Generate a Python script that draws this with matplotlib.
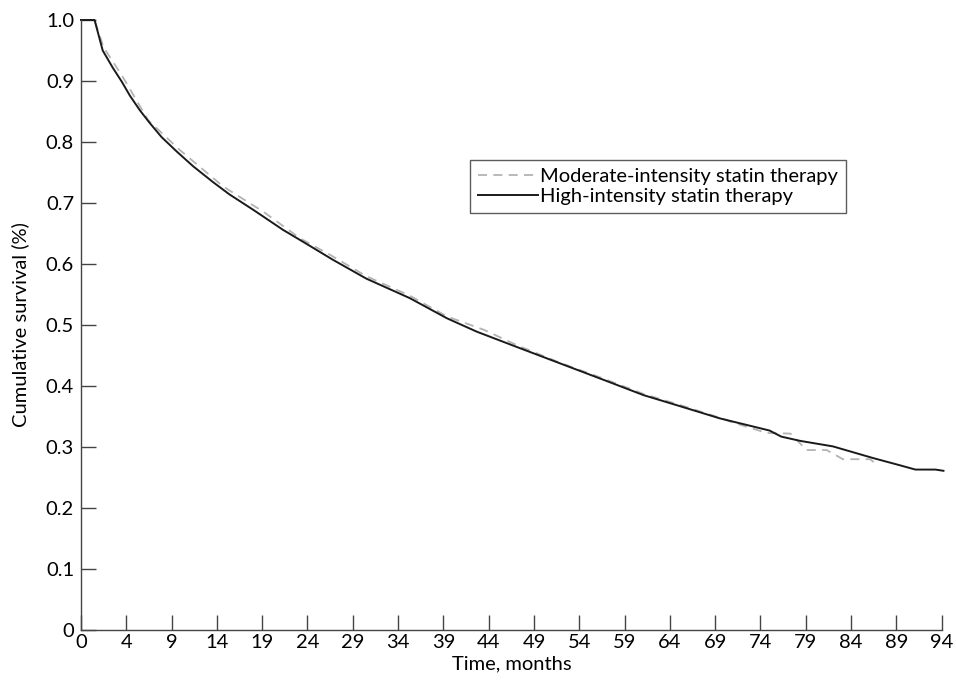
import matplotlib
matplotlib.use("Agg")
import matplotlib.pyplot as plt
import numpy as np

# data (x in plotted axis units: one tick every 5 units)
tick_labels = ["0", "4", "9", "14", "19", "24", "29", "34", "39", "44", "49",
               "54", "59", "64", "69", "74", "79", "84", "89", "94"]

high_x = [0, 1.5, 2.4, 3.5, 4.5, 5.4, 6.5, 7.6, 8.9, 10.6, 12.4, 14.6, 16.4, 19.0,
          22.3, 24.9, 27.8, 31.5, 36.3, 40.4, 43.7, 48.1, 52.9, 57.7, 62.1,
          66.1, 70.5, 76.0, 77.3, 79.4, 83.0, 87.4, 90.4, 92.1, 94.3, 95.2]
high_y = [1.0, 1.0, 0.950, 0.922, 0.899, 0.876, 0.852, 0.831, 0.808, 0.784, 0.760,
          0.734, 0.714, 0.689, 0.656, 0.633, 0.607, 0.576, 0.544, 0.511, 0.489,
          0.464, 0.437, 0.410, 0.385, 0.367, 0.347, 0.327, 0.317, 0.310, 0.301,
          0.282, 0.270, 0.263, 0.263, 0.261]

mod_x = [0, 1.5, 2.5, 4.6, 7.4, 10.9, 15.7, 20.1, 24.2, 27.5, 31.5, 36.3, 40.4,
         44.5, 48.1, 52.9, 57.7, 62.1, 66.1, 70.5, 72.0, 75.7, 78.3, 80.1,
         82.3, 84.1, 87.1, 87.7]
mod_y = [1.0, 1.0, 0.955, 0.907, 0.836, 0.787, 0.727, 0.686, 0.642, 0.615,
         0.580, 0.548, 0.514, 0.492, 0.467, 0.438, 0.412, 0.387, 0.369, 0.348,
         0.340, 0.323, 0.322, 0.295, 0.295, 0.280, 0.280, 0.273]

plt.rcParams['font.family'] = ['Lato', 'DejaVu Sans']

fig = plt.figure(figsize=(9.56, 6.83), dpi=100)
ax = fig.add_axes([0.0847, 0.0776, 0.9003, 0.8931])

ax.plot(mod_x, mod_y, color='#b3b3b3', linestyle=(0, (5, 3.5)), linewidth=1.3,
        label="Moderate-intensity statin therapy", clip_on=False)
ax.plot(high_x, high_y, color='#1a1a1a', linewidth=1.4,
        label="High-intensity statin therapy", clip_on=False)

ax.set_xlim(0, 95)
ax.set_ylim(0, 1.0)
ax.set_xticks(np.arange(len(tick_labels)) * 5)
ax.set_xticklabels(tick_labels)
ax.set_yticks(np.arange(0, 1.01, 0.1))
ax.set_yticklabels(["0"] + ["%.1f" % v for v in np.arange(0.1, 1.01, 0.1)])

for s in ['top', 'right']:
    ax.spines[s].set_visible(False)
for s in ['left', 'bottom']:
    ax.spines[s].set_color('#444444')
    ax.spines[s].set_linewidth(1.0)

ax.tick_params(direction='in', length=11, width=1.0, color='#444444',
               labelsize=14.5, pad=3)
ax.tick_params(axis='y', pad=5)

ax.set_xlabel("Time, months", fontsize=14.5, labelpad=3)
ax.set_ylabel("Cumulative survival (%)", fontsize=14.5, labelpad=12)

leg = ax.legend(loc='upper left', bbox_to_anchor=(0.452, 0.770),
                borderaxespad=0, fontsize=14.5, frameon=True, fancybox=False,
                handlelength=3.0, handletextpad=0.1, borderpad=0.4,
                labelspacing=0.1)
leg.get_frame().set_edgecolor('#333333')
leg.get_frame().set_linewidth(1.0)

fig.savefig("out.png", dpi=100)
